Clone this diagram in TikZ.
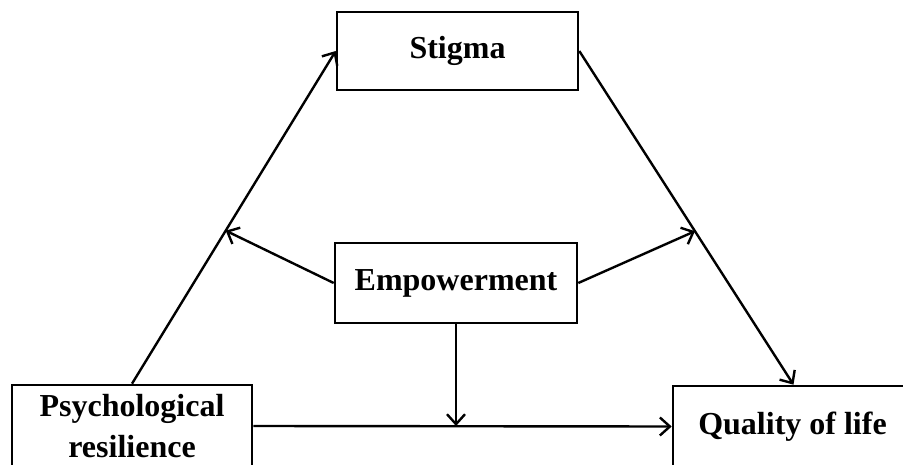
\documentclass[tikz,border=0pt]{standalone}
\usepackage{fontspec}
\setmainfont{Liberation Serif}
\usetikzlibrary{arrows.meta,calc}
\begin{document}
\begin{tikzpicture}[x=1pt,y=-1pt,
  box/.style={draw,line width=2.6pt,rectangle,inner sep=0pt,align=center,
    font=\fontsize{32}{41}\selectfont\bfseries},
  conn/.style={line width=2.4pt,-{Straight Barb[length=10pt,width=18pt,line width=2.4pt]}}]
\useasboundingbox[fill=white] (0,0) rectangle (903,465);
\node[box,minimum width=241pt,minimum height=78pt] (stigma) at (457.5,51) {Stigma};
\node[box,minimum width=242pt,minimum height=80pt] (emp) at (456,283) {Empowerment};
\node[box,minimum width=240pt,minimum height=82pt] (psych) at (132,426) {Psychological\\resilience};
\node[box,minimum width=239pt,minimum height=81pt] (qol) at (792.5,426.5) {Quality of life};
\coordinate (lp) at ($(psych.north)!0.46!(stigma.west)$);
\coordinate (rp) at ($(stigma.east)!0.54!([xshift=1pt]qol.north)$);
\coordinate (bp) at (emp.south |- psych.east);
\draw[conn] (psych.north) -- (stigma.west);
\draw[conn] (stigma.east) -- ([xshift=1pt]qol.north);
\draw[conn] (emp.west) -- (lp);
\draw[conn] (emp.east) -- (rp);
\draw[conn] (emp.south) -- (bp);
\draw[conn] (psych.east) -- (qol.west);
\end{tikzpicture}
\end{document}
